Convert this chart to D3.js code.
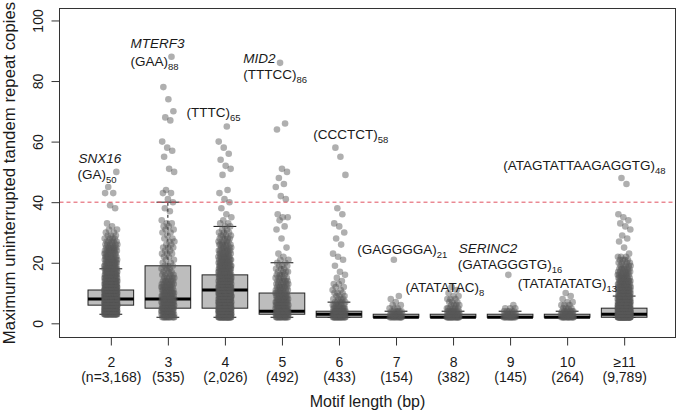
<!DOCTYPE html>
<html>
<head>
<meta charset="utf-8">
<script src="https://cdn.jsdelivr.net/npm/d3@7/dist/d3.min.js"></script>
<style>
  html, body { margin: 0; padding: 0; background: #fff; }
  svg { display: block; }
  text { font-family: "Liberation Sans", Arial, Helvetica, sans-serif; fill: #1a1a1a; }
</style>
</head>
<body>
<svg id="chart" width="678" height="414"></svg>
<script>
// ---------------- data ----------------
const categories = ["2", "3", "4", "5", "6", "7", "8", "9", "10", "\u226511"];
const sampleSizes = ["(n=3,168)", "(535)", "(2,026)", "(492)", "(433)", "(154)", "(382)", "(145)", "(264)", "(9,789)"];
const q1 = [6, 5, 5, 3, 2, 2, 2, 2, 2, 2];
const medians = [8, 8, 11, 4, 3, 2, 2, 2, 2, 3];
const q3 = [11, 19, 16, 10, 4, 3, 3, 3, 3, 5];
const whiskerLow = [3, 2, 2, 2, 2, 2, 2, 2, 2, 2];
const whiskerHigh = [18, 40, 32, 20, 7, 4, 4, 4, 4, 9];
const yTicks = [0, 20, 40, 60, 80, 100];
const threshold = 40;

// [repeat copies, number of loci drawn at that value]
const pts2 = [[3,30],[4,40],[5,40],[6,40],[7,40],[8,40],[9,35],[10,32],[11,30],[12,26],[13,22],[14,20],[15,18],[16,16],[17,14],[18,13],[19,12],[20,11],[21,10],[22,9],[23,8],[24,8],[25,7],[26,6],[27,5],[28,4],[29,3],[30,2],[31,2],[32,1],[33,1],[38,1],[39,1],[43,2],[45,1],[50,1]];
const pts3 = [[2,12],[3,14],[4,14],[5,14],[6,14],[7,14],[8,12],[9,11],[10,10],[11,9],[12,8],[13,7],[14,6],[15,5],[16,4],[17,3],[18,3],[19,3],[20,2],[21,2],[22,2],[23,3],[24,2],[25,3],[26,2],[27,2],[28,2],[29,1],[30,2],[31,2],[32,2],[33,2],[34,1],[37,1],[38,1],[40,1],[41,1],[43,2],[44,1],[50,1],[51,1],[55,1],[57,1],[58,1],[60,1],[67,1],[68,1],[70,1],[74,1],[78,1],[88,1]];
const pts4 = [[2,30],[3,32],[4,32],[5,32],[6,30],[7,30],[8,28],[9,26],[10,26],[11,24],[12,22],[13,20],[14,18],[15,17],[16,16],[17,14],[18,13],[19,12],[20,11],[21,10],[22,9],[23,8],[24,7],[25,6],[26,6],[27,5],[28,4],[29,4],[30,3],[31,2],[32,2],[33,2],[34,1],[35,1],[36,1],[38,1],[40,1],[41,1],[43,1],[44,1],[49,1],[51,1],[52,1],[54,1],[56,1],[58,1],[60,1],[65,1]];
const pts5 = [[2,16],[3,16],[4,16],[5,14],[6,12],[7,11],[8,10],[9,9],[10,8],[11,7],[12,7],[13,6],[14,6],[15,5],[16,4],[17,4],[18,3],[19,3],[20,2],[21,2],[22,1],[23,1],[25,1],[28,1],[31,1],[32,1],[34,1],[35,2],[36,1],[41,1],[42,1],[45,1],[46,1],[48,1],[50,1],[51,1],[64,1],[66,1],[86,1]];
const pts6 = [[2,20],[3,20],[4,14],[5,9],[6,7],[7,5],[8,4],[9,3],[10,3],[11,2],[12,2],[13,2],[14,1],[15,1],[16,1],[17,1],[19,1],[21,1],[22,1],[23,1],[26,1],[28,1],[30,1],[32,1],[33,1],[36,1],[38,1],[49,1],[55,1],[58,1]];
const pts7 = [[2,14],[3,10],[4,6],[5,3],[6,2],[7,1],[8,1],[9,1],[21,1]];
const pts8 = [[2,20],[3,16],[4,9],[5,6],[6,4],[7,3],[8,3],[9,2],[10,1],[11,1],[12,1]];
const pts9 = [[2,14],[3,9],[4,5],[5,3],[6,1],[16,1]];
const pts10 = [[2,16],[3,12],[4,7],[5,4],[6,3],[7,2],[8,1],[9,1],[10,1]];
const pts11 = [[2,45],[3,45],[4,38],[5,32],[6,26],[7,22],[8,20],[9,17],[10,15],[11,13],[12,12],[13,11],[14,10],[15,9],[16,8],[17,7],[18,6],[19,5],[20,4],[21,4],[22,3],[23,1],[25,1],[27,1],[28,1],[29,1],[31,1],[32,1],[33,1],[34,1],[35,1],[36,1],[46,1],[48,1]];
const pointSets = [pts2, pts3, pts4, pts5, pts6, pts7, pts8, pts9, pts10, pts11];

// annotation anchors in data units: position on motif-length axis, repeat copies
const annotations = [
  {p: 0.434, v: 53.1, text: "SNX16", italic: true},
  {p: 0.416, v: 47.6, text: "(GA)", sub: "50"},
  {p: 1.345, v: 90.8, text: "MTERF3", italic: true},
  {p: 1.345, v: 85.0, text: "(GAA)", sub: "88"},
  {p: 2.327, v: 68.2, text: "(TTTC)", sub: "65"},
  {p: 3.321, v: 86.0, text: "MID2", italic: true},
  {p: 3.321, v: 80.6, text: "(TTTCC)", sub: "86"},
  {p: 4.548, v: 60.8, text: "(CCCTCT)", sub: "58"},
  {p: 7.879, v: 50.6, text: "(ATAGTATTAAGAGGTG)", sub: "48"},
  {p: 5.320, v: 22.9, text: "(GAGGGGA)", sub: "21"},
  {p: 7.101, v: 23.1, text: "SERINC2", italic: true},
  {p: 7.083, v: 17.9, text: "(GATAGGGTG)", sub: "16"},
  {p: 6.167, v: 10.5, text: "(ATATATAC)", sub: "8"},
  {p: 8.135, v: 11.6, text: "(TATATATATG)", sub: "13"}
];

// ---------------- layout ----------------
const svg = d3.select("#chart");
const plot = {left: 59.5, right: 675.5, top: 8.5, bottom: 337.5};

const x = d3.scaleLinear().domain([0.1, 10.9]).range([plot.left, plot.right]);
const y = d3.scaleLinear().domain([-4.68, 103.95]).range([plot.bottom, plot.top]);

svg.append("rect").attr("width", 678).attr("height", 414).attr("fill", "#fff");

// boxes
const boxData = categories.map((c, i) => ({
  p: i + 1, q1: q1[i], med: medians[i], q3: q3[i], lo: whiskerLow[i], hi: whiskerHigh[i]
}));
const gBox = svg.append("g");
boxData.forEach(d => {
  const g = gBox.append("g");
  g.append("line").attr("x1", x(d.p)).attr("x2", x(d.p)).attr("y1", y(d.q3)).attr("y2", y(d.hi))
    .attr("stroke", "#111").attr("stroke-width", 1).attr("stroke-dasharray", "3,3");
  g.append("line").attr("x1", x(d.p)).attr("x2", x(d.p)).attr("y1", y(d.q1)).attr("y2", y(d.lo))
    .attr("stroke", "#111").attr("stroke-width", 1).attr("stroke-dasharray", "3,3");
  [d.hi, d.lo].forEach(v => {
    g.append("line").attr("x1", x(d.p - 0.2)).attr("x2", x(d.p + 0.2)).attr("y1", y(v)).attr("y2", y(v))
      .attr("stroke", "#111").attr("stroke-width", 1);
  });
  g.append("rect").attr("x", x(d.p - 0.4)).attr("width", x(d.p + 0.4) - x(d.p - 0.4))
    .attr("y", y(d.q3)).attr("height", y(d.q1) - y(d.q3))
    .attr("fill", "#bdbdbd").attr("stroke", "#222").attr("stroke-width", 1);
  g.append("line").attr("x1", x(d.p - 0.4)).attr("x2", x(d.p + 0.4)).attr("y1", y(d.med)).attr("y2", y(d.med))
    .attr("stroke", "#000").attr("stroke-width", 3);
});

// jittered points (deterministic low-discrepancy jitter of about +/-0.11 units)
const golden = 0.6180339887;
const jitter = 0.115;
const pts = [];
pointSets.forEach((set, ci) => {
  let k = 0;
  set.forEach(([v, n]) => {
    for (let j = 0; j < n; j++) {
      const f = ((k * golden + ci * 0.37) % 1);
      pts.push({p: ci + 1 + (f - 0.5) * 2 * jitter, v: v});
      k++;
    }
  });
});
svg.append("g").selectAll("circle").data(pts).join("circle")
  .attr("cx", d => x(d.p)).attr("cy", d => y(d.v)).attr("r", 3.3)
  .attr("fill", "#585858").attr("fill-opacity", 0.48);

// threshold line
svg.append("line").attr("x1", plot.left).attr("x2", plot.right)
  .attr("y1", y(threshold)).attr("y2", y(threshold))
  .attr("stroke", "#e0505f").attr("stroke-width", 1).attr("stroke-dasharray", "4,3");

// annotations
const gAnn = svg.append("g");
annotations.forEach(a => {
  const t = gAnn.append("text").attr("x", x(a.p)).attr("y", y(a.v))
    .attr("font-size", 13.5);
  if (a.italic) t.attr("font-style", "italic");
  t.append("tspan").text(a.text);
  if (a.sub) t.append("tspan").attr("font-size", 9.5).attr("dy", 4).text(a.sub);
});

// frame
svg.append("rect").attr("x", plot.left).attr("y", plot.top)
  .attr("width", plot.right - plot.left).attr("height", plot.bottom - plot.top)
  .attr("fill", "none").attr("stroke", "#333").attr("stroke-width", 1);

// y axis
const yAxis = svg.append("g").attr("transform", `translate(${plot.left},0)`)
  .call(d3.axisLeft(y).tickValues(yTicks).tickSize(8).tickPadding(0).tickFormat(d3.format("d")));
yAxis.select(".domain").remove();
yAxis.selectAll(".tick line").attr("stroke", "#333");
yAxis.selectAll(".tick text")
  .attr("x", null).attr("dy", null)
  .attr("transform", "translate(-17,0) rotate(-90)")
  .attr("text-anchor", "middle")
  .attr("font-size", 14)
  .attr("font-family", "Liberation Sans, Arial, sans-serif")
  .attr("fill", "#1a1a1a");

// x axis
const xAxis = svg.append("g").attr("transform", `translate(0,${plot.bottom})`)
  .call(d3.axisBottom(x).tickValues(d3.range(1, categories.length + 1)).tickSize(8).tickFormat(""));
xAxis.select(".domain").remove();
xAxis.selectAll(".tick line").attr("stroke", "#333");
xAxis.selectAll(".tick").each(function(d) {
  const t = d3.select(this).append("text").attr("text-anchor", "middle").attr("font-size", 14)
    .attr("fill", "#1a1a1a");
  t.append("tspan").attr("x", 0).attr("y", 29.5).text(categories[d - 1]);
  t.append("tspan").attr("x", 0).attr("y", 44.5).text(sampleSizes[d - 1]);
});

// axis titles
svg.append("text").attr("x", (plot.left + plot.right) / 2).attr("y", 407)
  .attr("text-anchor", "middle").attr("font-size", 16).text("Motif length (bp)");
svg.append("text")
  .attr("transform", `translate(15,${(plot.top + plot.bottom) / 2}) rotate(-90)`)
  .attr("text-anchor", "middle").attr("font-size", 16.8)
  .text("Maximum uninterrupted tandem repeat copies");
</script>
</body>
</html>
